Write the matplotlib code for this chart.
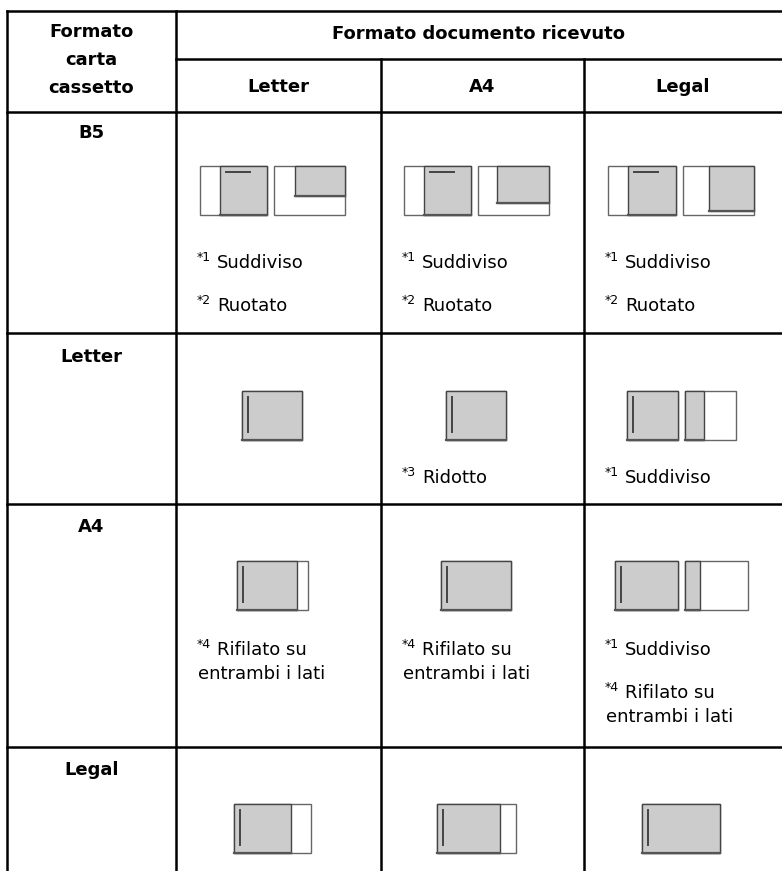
import matplotlib.pyplot as plt
from matplotlib.patches import Rectangle

plt.rcParams['font.family'] = ['DejaVu Sans']

# formato carta nel cassetto (righe) e formato documento ricevuto (colonne)
paper_sizes = ['B5', 'Letter', 'A4', 'Legal']
doc_sizes = ['Letter', 'A4', 'Legal']
header_left = ['Formato', 'carta', 'cassetto']
header_top = 'Formato documento ricevuto'

# note per cella: (numero nota, righe di testo)
notes = [
    [[('1', ['Suddiviso']), ('2', ['Ruotato'])],
     [('1', ['Suddiviso']), ('2', ['Ruotato'])],
     [('1', ['Suddiviso']), ('2', ['Ruotato'])]],
    [[], [('3', ['Ridotto'])], [('1', ['Suddiviso'])]],
    [[('4', ['Rifilato su', 'entrambi i lati'])],
     [('4', ['Rifilato su', 'entrambi i lati'])],
     [('1', ['Suddiviso']), ('4', ['Rifilato su', 'entrambi i lati'])]],
    [[], [], []],
]

# schemi: per ogni foglio (larghezza, parte grigia x0, x1, y1, segno)
sheets = [
    [[(67, 0.30, 1.0, 1.0, 'h'), (71, 0.30, 1.0, 0.62, None)],
     [(67, 0.30, 1.0, 1.0, 'h'), (71, 0.28, 1.0, 0.76, None)],
     [(68, 0.29, 1.0, 1.0, 'h'), (71, 0.37, 1.0, 0.92, None)]],
    [[(60, 0.0, 1.0, 1.0, 'v')],
     [(60, 0.0, 1.0, 1.0, 'v')],
     [(51, 0.0, 1.0, 1.0, 'v'), (51, 0.0, 0.39, 1.0, None)]],
    [[(71, 0.0, 0.85, 1.0, 'v')],
     [(70, 0.0, 1.0, 1.0, 'v')],
     [(63, 0.0, 1.0, 1.0, 'v'), (63, 0.0, 0.24, 1.0, None)]],
    [[(77, 0.0, 0.75, 1.0, 'v')],
     [(79, 0.0, 0.80, 1.0, 'v')],
     [(78, 0.0, 1.0, 1.0, 'v')]],
]

W, H = 782, 871
col_x = [7, 176, 381, 584, W]
row_y = [11, 59, 112, 333, 504, 747]
label_y = [133, 357, 527, 770]
sheet_top = [166, 391, 561, 804]
sheet_cx = [272, 476, 681]
sheet_h = 49
note_y = [263, 478, 650, 0]
gap = 7

fig = plt.figure(figsize=(W / 100, H / 100), dpi=100)
ax = fig.add_axes([0, 0, 1, 1])
ax.set_xlim(0, W)
ax.set_ylim(H, 0)
ax.axis('off')

lw = 1.8
# griglia della tabella
ax.plot([col_x[0], W], [row_y[0]] * 2, color='black', lw=lw)
ax.plot([col_x[1], W], [row_y[1]] * 2, color='black', lw=lw)
for y in row_y[2:]:
    ax.plot([col_x[0], W], [y, y], color='black', lw=lw)
ax.plot([col_x[0]] * 2, [row_y[0], H], color='black', lw=lw)
ax.plot([col_x[1]] * 2, [row_y[0], H], color='black', lw=lw)
for x in col_x[2:4]:
    ax.plot([x, x], [row_y[1], H], color='black', lw=lw)

bold = dict(fontsize=13, fontweight='bold', ha='center', va='center')
for i, t in enumerate(header_left):
    ax.text((col_x[0] + col_x[1]) / 2, 32 + 28 * i, t, **bold)
ax.text((col_x[1] + W) / 2, 34, header_top, **bold)
for j, t in enumerate(doc_sizes):
    ax.text((col_x[j + 1] + col_x[j + 2]) / 2, 87, t, **bold)
for i, t in enumerate(paper_sizes):
    ax.text((col_x[0] + col_x[1]) / 2, label_y[i], t, **bold)


def draw_sheet(x, y, w, gx0, gx1, gy1, mark):
    h = sheet_h
    ax.add_patch(Rectangle((x, y), w, h, facecolor='white',
                           edgecolor='#666666', lw=1.0))
    ax.add_patch(Rectangle((x + gx0 * w, y), (gx1 - gx0) * w, gy1 * h,
                           facecolor='#cccccc', edgecolor='#444444', lw=1.0))
    ax.plot([x + gx0 * w, x + gx1 * w], [y + gy1 * h] * 2,
            color='#555555', lw=1.6)
    if mark == 'v':
        ax.plot([x + gx0 * w + 6] * 2, [y + 6, y + h - 8], color='#444444', lw=1.4)
    elif mark == 'h':
        ax.plot([x + gx0 * w + 6, x + gx0 * w + 30], [y + 6] * 2,
                color='#444444', lw=1.4)


for i in range(len(paper_sizes)):
    for j in range(len(doc_sizes)):
        cell = sheets[i][j]
        total = sum(s[0] for s in cell) + gap * (len(cell) - 1)
        x = sheet_cx[j] - total / 2
        for s in cell:
            draw_sheet(x, sheet_top[i], *s)
            x += s[0] + gap
        y = note_y[i]
        tx = col_x[j + 1] + 22
        for num, lines in notes[i][j]:
            ax.text(tx - 1, y - 6, '*' + num, fontsize=9, ha='left', va='center')
            ax.text(tx + 19, y, lines[0], fontsize=13, ha='left', va='center')
            for extra in lines[1:]:
                y += 24
                ax.text(tx, y, extra, fontsize=13, ha='left', va='center')
            y += 43

fig.savefig('out.png', dpi=100)
